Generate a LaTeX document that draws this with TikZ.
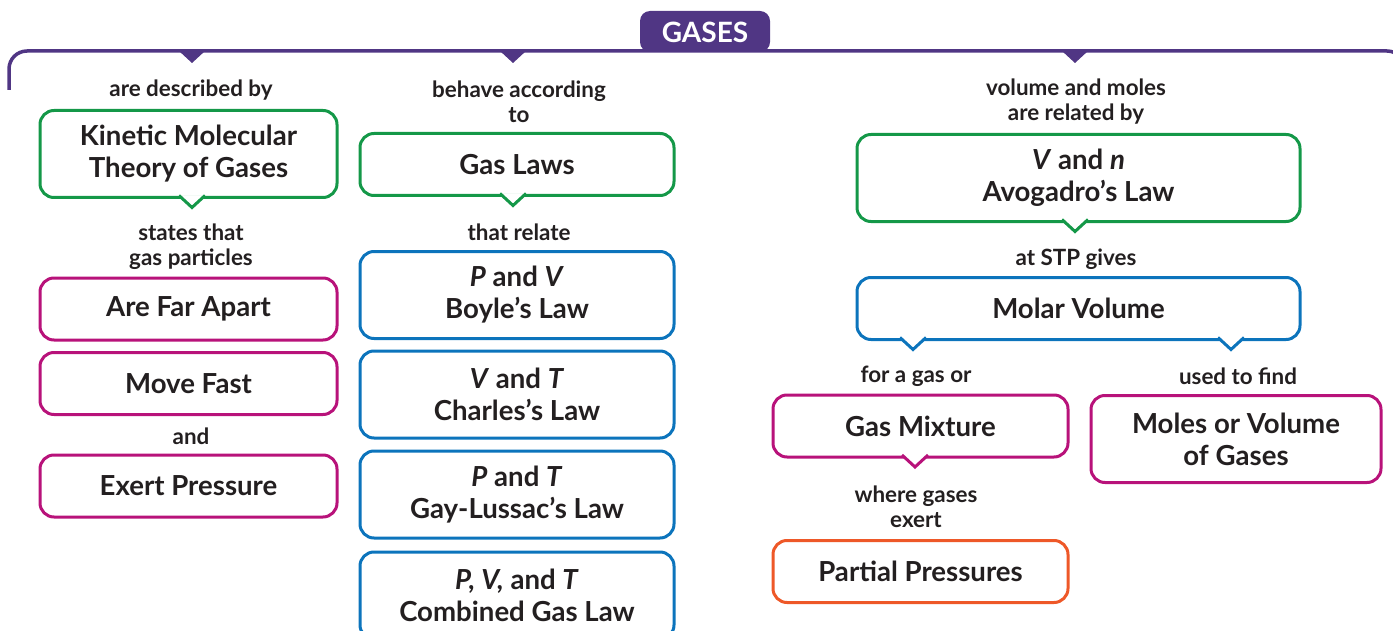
\documentclass[tikz,border=0pt]{standalone}
\usepackage{fontspec}
\setmainfont{Lato}
\usepackage{tikz}
\usetikzlibrary{calc}
\definecolor{gPurple}{RGB}{80,54,132}
\definecolor{gGreen}{RGB}{20,152,72}
\definecolor{gBlue}{RGB}{12,116,188}
\definecolor{gMagenta}{RGB}{184,18,122}
\definecolor{gOrange}{RGB}{238,88,40}
\definecolor{gInk}{RGB}{35,31,32}

\begin{document}
\begin{tikzpicture}[x=0.5pt, y=-0.5pt,
    box/.style={draw=#1, line width=1.5pt, rounded corners=7pt, fill=white,
                align=center, inner sep=0pt, outer sep=0pt, text=gInk,
                font=\bfseries\fontsize{13.8}{16}\selectfont},
    lbl/.style={align=center, text=gInk, inner sep=0pt,
                font=\bfseries\fontsize{11.2}{12.5}\selectfont},
    ptr/.style={draw=#1, fill=white, line width=1.5pt, line join=miter},
    colA/.style={minimum width=148.5pt},
    colB/.style={minimum width=157pt},
    colC/.style={minimum width=221.5pt},
    colD/.style={minimum width=147.5pt},
    colE/.style={minimum width=145pt},
    one/.style={minimum height=31pt},
    two/.style={minimum height=43.5pt}]
\useasboundingbox (0,0) rectangle (1393,631);
\clip (0,0) rectangle (1393,631);

% TOP BAR
\draw[gPurple, line width=1.75pt, rounded corners=9pt]
   (9,90) -- (9,51) -- (1405,51) -- (1405,90);
\foreach \x in {192,513,1075}
   \fill[gPurple] (\x-13,51) -- (\x,63) -- (\x+13,51) -- cycle;
\fill[gPurple, rounded corners=5pt] (640,52) -- (640,11) -- (770,11)
   -- (770,52) -- cycle;
\node[text=white, font=\bfseries\fontsize{14}{16}\selectfont] (gases) at (705,32) {GASES};

% COLUMN 1
\node[lbl] (l1a) at (191,90) {are described by};
\node[box=gGreen, colA, two] (kmt) at (188.5,154) {Kinetic Molecular\\Theory of Gases};
\node[lbl] (l1b) at (191,247) {states that\\gas particles};
\node[box=gMagenta, colA, one] (apart) at (188.5,309) {Are Far Apart};
\node[box=gMagenta, colA, one] (fast) at (188.5,383.5) {Move Fast};
\node[lbl] (l1c) at (191,436) {and};
\node[box=gMagenta, colA, one] (exert) at (188.5,486) {Exert Pressure};

% COLUMN 2
\node[lbl] (l2a) at (519,102) {behave according\\to};
\node[box=gGreen, colB, one] (laws) at (517,164.5) {Gas Laws};
\node[lbl] (l2b) at (519,232) {that relate};
\node[box=gBlue, colB, two] (boyle) at (517,295) {\textit{P} and \textit{V}\\Boyle’s Law};
\node[box=gBlue, colB, two] (charles) at (517,394.5) {\textit{V} and \textit{T}\\Charles’s Law};
\node[box=gBlue, colB, two] (gay) at (517,494.5) {\textit{P} and \textit{T}\\Gay-Lussac’s Law};
\node[box=gBlue, colB, two] (comb) at (517,595.5) {\textit{P, V,} and \textit{T}\\Combined Gas Law};

% COLUMN 3
\node[lbl] (l3a) at (1076,102) {volume and moles\\are related by};
\node[box=gGreen, colC, two] (avo) at (1078.5,178) {\textit{V} and \textit{n}\\Avogadro’s Law};
\node[lbl] (l3b) at (1076,259) {at STP gives};
\node[box=gBlue, colC, one] (molar) at (1078.5,308.5) {Molar Volume};
\node[lbl] (l3c) at (916,376) {for a gas or};
\node[lbl] (l3d) at (1238,376) {used to find};
\node[box=gMagenta, colD, one] (mix) at (920.5,426) {Gas Mixture};
\node[lbl] (l3e) at (916,507) {where gases\\exert};
\node[box=gOrange, colD, one] (partial) at (920.5,571.5) {Partial Pressures};
\node[box=gMagenta, colE, two] (moles) at (1236,439) {Moles or Volume\\of Gases};

% Pointers
\foreach \n/\dx/\c in {kmt/3.5/gGreen, laws/-4/gGreen, avo/-3.5/gGreen,
                       molar/-165.5/gBlue, molar/152.5/gBlue, mix/-5.5/gMagenta}
   \filldraw[ptr=\c] ($(\n.south)+(\dx-13,-2)$) -- ++(13,12) -- ++(13,-12);

\end{tikzpicture}
\end{document}
